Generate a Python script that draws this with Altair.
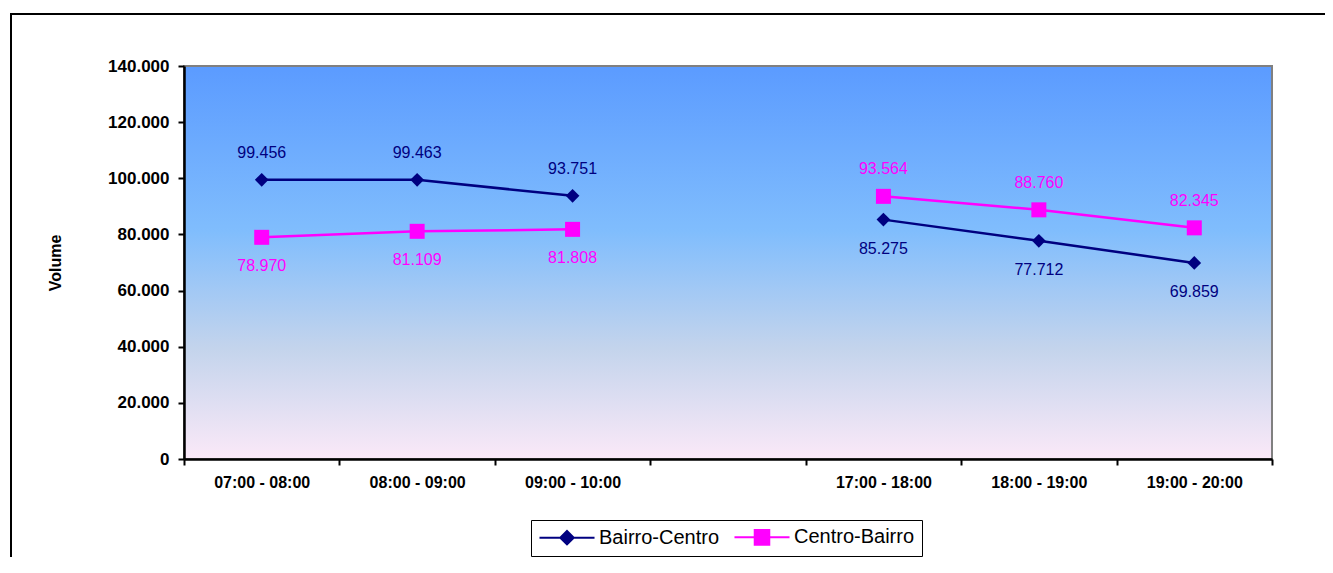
import altair as alt
import pandas as pd

categories = ["07:00 - 08:00", "08:00 - 09:00", "09:00 - 10:00", " ",
              "17:00 - 18:00", "18:00 - 19:00", "19:00 - 20:00"]
series_names = ["Bairro-Centro", "Centro-Bairro"]
bairro_centro = [99456, 99463, 93751, None, 85275, 77712, 69859]
centro_bairro = [78970, 81109, 81808, None, 93564, 88760, 82345]
periods = ["manhã", "manhã", "manhã", None, "tarde", "tarde", "tarde"]
y_ticks = [0, 20000, 40000, 60000, 80000, 100000, 120000, 140000]

rows = []
for i, cat in enumerate(categories):
    a, b = bairro_centro[i], centro_bairro[i]
    if a is None or b is None:
        continue
    rows.append({"cat": cat, "serie": series_names[0], "valor": a, "periodo": periods[i], "acima": a >= b})
    rows.append({"cat": cat, "serie": series_names[1], "valor": b, "periodo": periods[i], "acima": b > a})
df = pd.DataFrame(rows)

W, H = 1088, 393
FONT = "Liberation Sans"
colors = ["#000080", "#FF00FF"]
legend_paths = ["M-3.67,0L3.67,0M0,-0.9L0.9,0L0,0.9L-0.9,0Z",
                "M-3.67,0L3.67,0M-0.97,-0.97L0.97,-0.97L0.97,0.97L-0.97,0.97Z"]

x_enc = alt.X("cat:N", sort=categories,
              scale=alt.Scale(type="band", domain=categories, paddingInner=0, paddingOuter=0),
              axis=alt.Axis(title=None, labelAngle=0, tickBand="extent", labelFontSize=16,
                            labelFontWeight="bold", labelFont=FONT, labelColor="black",
                            labelPadding=9, tickSize=6, tickWidth=2, tickColor="black",
                            domainColor="black", domainWidth=2.5, grid=False, zindex=2))
y_enc = alt.Y("valor:Q", scale=alt.Scale(domain=[0, 140000], nice=False),
              axis=alt.Axis(title="Volume", values=y_ticks, format=",d", labelFontSize=17,
                            labelFontWeight="bold", labelFont=FONT, labelColor="black",
                            labelPadding=9, tickSize=6, tickWidth=2, tickColor="black",
                            domainColor="black", domainWidth=2.5, grid=False, zindex=2,
                            titleFont=FONT, titleFontSize=16, titleFontWeight="bold",
                            titleColor="black", titleX=-124, titleY=H / 2,
                            titleAngle=270, titleAlign="center", titleBaseline="alphabetic"))

legend = alt.Legend(title=None, orient="none", legendX=347, legendY=454, direction="horizontal",
                    labelFont=FONT, labelFontSize=20, labelColor="black",
                    symbolSize=225, symbolStrokeWidth=2, symbolOffset=19, labelOffset=22,
                    symbolOpacity=1, padding=7, strokeColor="black")

color_scale = alt.Scale(domain=series_names, range=colors)
shape_scale = alt.Scale(domain=series_names, range=legend_paths)

base = alt.Chart(df)
one_row = "datum.cat == '07:00 - 08:00' && datum.serie == 'Bairro-Centro'"

frame = base.mark_rect(fill=None, fillOpacity=0, stroke="black", strokeWidth=2, clip=False).encode(
    x=alt.value(-173), x2=alt.value(W + 400), y=alt.value(-52), y2=alt.value(H + 400)
).transform_filter(one_row)

bg = base.mark_rect(
    fill=alt.Gradient(
        gradient="linear",
        stops=[alt.GradientStop(color="#5b9bff", offset=0),
               alt.GradientStop(color="#80bdfd", offset=0.42),
               alt.GradientStop(color="#c4d4ec", offset=0.72),
               alt.GradientStop(color="#fbe9f8", offset=1)],
        x1=0, x2=0, y1=0, y2=1),
    stroke="#808080", strokeWidth=2
).encode(
    x=alt.value(0), x2=alt.value(W), y=alt.value(0), y2=alt.value(H)
).transform_filter(one_row)

lines = base.mark_line(strokeWidth=2.5).encode(
    x=x_enc, y=y_enc,
    color=alt.Color("serie:N", scale=color_scale, legend=legend),
    detail="periodo:N")

diamonds = base.mark_point(shape="diamond", filled=True, size=188, opacity=1).encode(
    x=alt.X("cat:N", sort=categories), y="valor:Q",
    color=alt.Color("serie:N", scale=color_scale, legend=legend)
).transform_filter("datum.serie == 'Bairro-Centro'")

squares = base.mark_point(shape="square", filled=True, size=225, opacity=1).encode(
    x=alt.X("cat:N", sort=categories), y="valor:Q",
    color=alt.Color("serie:N", scale=color_scale, legend=legend)
).transform_filter("datum.serie == 'Centro-Bairro'")

labels_up = base.mark_text(font=FONT, fontSize=16, baseline="middle", dy=-27).encode(
    x=alt.X("cat:N", sort=categories), y="valor:Q",
    text=alt.Text("valor:Q", format=",d"),
    color=alt.Color("serie:N", scale=color_scale, legend=legend)
).transform_filter("datum.acima")

labels_down = base.mark_text(font=FONT, fontSize=16, baseline="middle", dy=29).encode(
    x=alt.X("cat:N", sort=categories), y="valor:Q",
    text=alt.Text("valor:Q", format=",d"),
    color=alt.Color("serie:N", scale=color_scale, legend=legend)
).transform_filter("!datum.acima")

# marks of this layer sit outside the clipped view; it gives the legend its line+marker symbols
legend_layer = base.mark_point(filled=True, opacity=1, strokeWidth=2, clip=True).encode(
    x=alt.X("cat:N", sort=categories), y=alt.value(H + 2000),
    color=alt.Color("serie:N", scale=color_scale, legend=legend),
    stroke=alt.Stroke("serie:N", scale=color_scale, legend=legend),
    shape=alt.Shape("serie:N", scale=shape_scale, legend=legend)
)

chart = alt.layer(frame, bg, lines, diamonds, squares, labels_up, labels_down, legend_layer).properties(
    width=W, height=H,
    autosize=alt.AutoSizeParams(type="none"),
    padding={"left": 176, "top": 58, "right": 53, "bottom": 98},
    background="white"
).configure_view(stroke=None).configure_legend(
    columnPadding=5, strokeWidth=2
).configure(
    locale={"number": {"decimal": ",", "thousands": ".", "grouping": [3], "currency": ["", " €"]}}
)

chart.save("out.html", embed_options={"renderer": "svg", "actions": False})
